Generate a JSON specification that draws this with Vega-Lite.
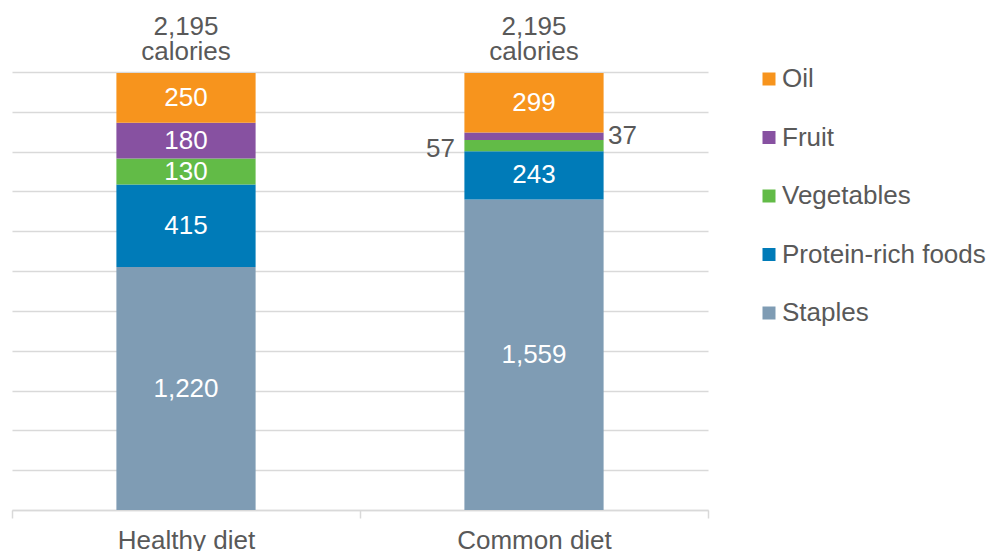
{
  "$schema": "https://vega.github.io/schema/vega-lite/v6.json",
  "width": 696,
  "height": 438,
  "autosize": "none",
  "padding": {"left": 12, "top": 72, "right": 284, "bottom": 41},
  "background": "white",
  "config": {"font": "Liberation Sans", "view": {"stroke": null}},
  "datasets": {
    "diets": [
      {"diet": "Healthy diet", "food": "Staples", "calories": 1220, "rank": 1},
      {"diet": "Healthy diet", "food": "Protein-rich foods", "calories": 415, "rank": 2},
      {"diet": "Healthy diet", "food": "Vegetables", "calories": 130, "rank": 3},
      {"diet": "Healthy diet", "food": "Fruit", "calories": 180, "rank": 4},
      {"diet": "Healthy diet", "food": "Oil", "calories": 250, "rank": 5},
      {"diet": "Common diet", "food": "Staples", "calories": 1559, "rank": 1},
      {"diet": "Common diet", "food": "Protein-rich foods", "calories": 243, "rank": 2},
      {"diet": "Common diet", "food": "Vegetables", "calories": 57, "rank": 3},
      {"diet": "Common diet", "food": "Fruit", "calories": 37, "rank": 4},
      {"diet": "Common diet", "food": "Oil", "calories": 299, "rank": 5}
    ],
    "totals": [
      {"diet": "Healthy diet", "total": 2195, "label": "2,195\ncalories"},
      {"diet": "Common diet", "total": 2195, "label": "2,195\ncalories"}
    ]
  },
  "data": {"name": "diets"},
  "encoding": {
    "x": {
      "field": "diet",
      "type": "nominal",
      "sort": ["Healthy diet", "Common diet"],
      "scale": {"paddingInner": 0, "paddingOuter": 0},
      "axis": {
        "title": null,
        "labelAngle": 0,
        "labelFontSize": 26,
        "labelColor": "#595959",
        "labelPadding": 9,
        "domainColor": "#D9D9D9",
        "domainWidth": 1.5,
        "tickColor": "#D9D9D9",
        "tickWidth": 1.5,
        "tickSize": 8,
        "tickBand": "extent",
        "grid": false
      }
    }
  },
  "layer": [
    {
      "mark": {"type": "bar", "width": {"band": 0.4}},
      "encoding": {
        "y": {
          "field": "calories",
          "type": "quantitative",
          "aggregate": "sum",
          "stack": "zero",
          "scale": {"domain": [0, 2200], "nice": false},
          "axis": {
            "title": null,
            "labels": false,
            "ticks": false,
            "domain": false,
            "values": [0, 200, 400, 600, 800, 1000, 1200, 1400, 1600, 1800, 2000, 2200],
            "gridColor": "#D9D9D9",
            "gridWidth": 1.5
          }
        },
        "color": {
          "field": "food",
          "type": "nominal",
          "scale": {
            "domain": ["Oil", "Fruit", "Vegetables", "Protein-rich foods", "Staples"],
            "range": ["#F7941D", "#8751A1", "#62BB47", "#007BB8", "#7F9CB4"]
          },
          "legend": {
            "title": null,
            "orient": "none",
            "legendX": 744,
            "legendY": -6,
            "padding": 0,
            "symbolType": "square",
            "symbolSize": 169,
            "symbolStrokeWidth": 0,
            "symbolOpacity": 1,
            "labelFontSize": 26,
            "labelColor": "#595959",
            "labelOffset": 0,
            "rowPadding": 32.5,
            "labelLimit": 300
          }
        },
        "order": {"field": "rank", "type": "quantitative", "sort": "ascending"}
      }
    },
    {
      "mark": {"type": "text", "color": "white", "fontSize": 26, "baseline": "middle"},
      "encoding": {
        "y": {"field": "calories", "type": "quantitative", "aggregate": "sum", "stack": "zero", "bandPosition": 0.5,
              "axis": {"title": null, "labels": false, "ticks": false, "domain": false,
                       "values": [0, 200, 400, 600, 800, 1000, 1200, 1400, 1600, 1800, 2000, 2200],
                       "gridColor": "#D9D9D9", "gridWidth": 1.5}},
        "detail": {"field": "food"},
        "order": {"field": "rank", "type": "quantitative", "sort": "ascending"},
        "text": {
          "condition": {
            "test": "!(datum.diet === 'Common diet' && (datum.food === 'Vegetables' || datum.food === 'Fruit'))",
            "field": "calories",
            "aggregate": "sum",
            "type": "quantitative",
            "format": ",d"
          },
          "value": ""
        }
      }
    },
    {
      "mark": {"type": "text", "color": "#595959", "fontSize": 26, "baseline": "middle", "align": "right", "dx": -79, "dy": 3},
      "encoding": {
        "y": {"field": "calories", "type": "quantitative", "aggregate": "sum", "stack": "zero", "bandPosition": 0.5,
              "axis": {"title": null, "labels": false, "ticks": false, "domain": false,
                       "values": [0, 200, 400, 600, 800, 1000, 1200, 1400, 1600, 1800, 2000, 2200],
                       "gridColor": "#D9D9D9", "gridWidth": 1.5}},
        "detail": {"field": "food"},
        "order": {"field": "rank", "type": "quantitative", "sort": "ascending"},
        "text": {
          "condition": {
            "test": "datum.diet === 'Common diet' && datum.food === 'Vegetables'",
            "field": "calories",
            "aggregate": "sum",
            "type": "quantitative",
            "format": ",d"
          },
          "value": ""
        }
      }
    },
    {
      "mark": {"type": "text", "color": "#595959", "fontSize": 26, "baseline": "middle", "align": "left", "dx": 74},
      "encoding": {
        "y": {"field": "calories", "type": "quantitative", "aggregate": "sum", "stack": "zero", "bandPosition": 0.5,
              "axis": {"title": null, "labels": false, "ticks": false, "domain": false,
                       "values": [0, 200, 400, 600, 800, 1000, 1200, 1400, 1600, 1800, 2000, 2200],
                       "gridColor": "#D9D9D9", "gridWidth": 1.5}},
        "detail": {"field": "food"},
        "order": {"field": "rank", "type": "quantitative", "sort": "ascending"},
        "text": {
          "condition": {
            "test": "datum.diet === 'Common diet' && datum.food === 'Fruit'",
            "field": "calories",
            "aggregate": "sum",
            "type": "quantitative",
            "format": ",d"
          },
          "value": ""
        }
      }
    },
    {
      "data": {"name": "totals"},
      "mark": {"type": "text", "color": "#595959", "fontSize": 26, "baseline": "bottom", "lineBreak": "\n", "lineHeight": 25, "dy": -33},
      "encoding": {
        "y": {"field": "total", "type": "quantitative",
              "axis": {"title": null, "labels": false, "ticks": false, "domain": false,
                       "values": [0, 200, 400, 600, 800, 1000, 1200, 1400, 1600, 1800, 2000, 2200],
                       "gridColor": "#D9D9D9", "gridWidth": 1.5}},
        "text": {"field": "label"}
      }
    }
  ]
}
